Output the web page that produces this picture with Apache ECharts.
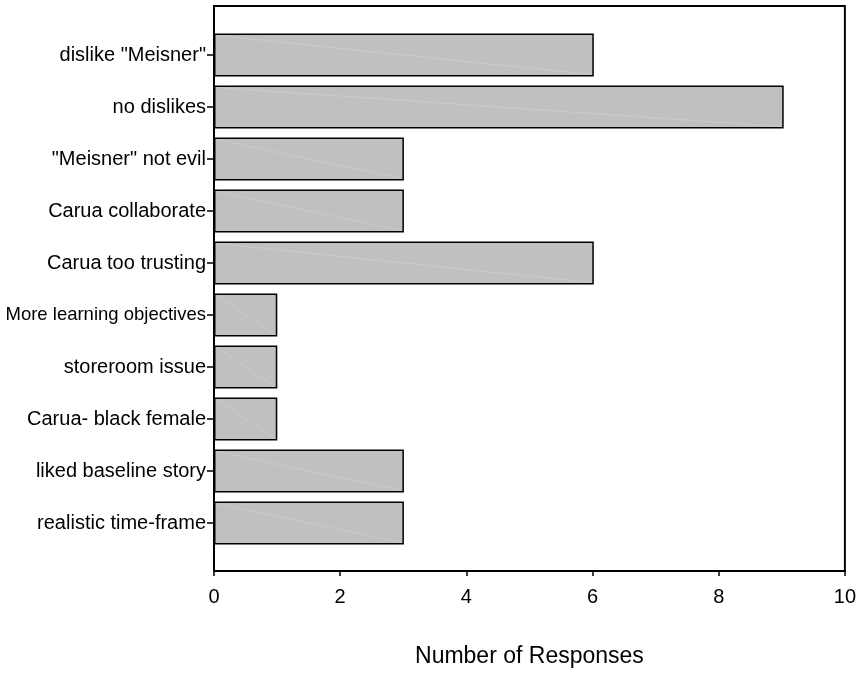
<!DOCTYPE html>
<html>
<head>
<meta charset="utf-8">
<script src="https://cdn.jsdelivr.net/npm/echarts@6/dist/echarts.min.js"></script>
<style>
html,body{margin:0;padding:0;background:#fff;}
#chart{width:859px;height:673px;}
</style>
</head>
<body>
<div id="chart"></div>
<script>
const categories = [
  'dislike "Meisner"',
  'no dislikes',
  '"Meisner" not evil',
  'Carua collaborate',
  'Carua too trusting',
  'More learning objectives',
  'storeroom issue',
  'Carua- black female',
  'liked baseline story',
  'realistic time-frame'
];
const responses = [6, 9, 3, 3, 6, 1, 1, 1, 3, 3];
const xTicks = [0, 2, 4, 6, 8, 10];
const xTitle = 'Number of Responses';

const FONT = '"Liberation Sans", Arial, Helvetica, sans-serif';
const BAR_H = 43;
const chart = echarts.init(document.getElementById('chart'), null, {renderer: 'canvas'});

chart.setOption({
  animation: false,
  backgroundColor: '#ffffff',
  grid: [
    {left: 214, right: 12, top: 6, bottom: 101, show: true, borderColor: '#000', borderWidth: 2, backgroundColor: 'transparent', z: 5},
    {left: 214, right: 12, top: 29, bottom: 124}
  ],
  xAxis: [
    {
      gridIndex: 0, type: 'value', min: xTicks[0], max: xTicks[xTicks.length - 1], interval: 2,
      axisLine: {show: true, lineStyle: {color: '#000', width: 2}},
      axisTick: {show: true, length: 5, lineStyle: {color: '#000', width: 1.5}},
      axisLabel: {fontSize: 20, color: '#000', fontFamily: FONT, margin: 16},
      splitLine: {show: false},
      name: xTitle, nameLocation: 'middle', nameGap: 74,
      nameTextStyle: {fontSize: 23, color: '#000', fontFamily: FONT}
    },
    {gridIndex: 1, type: 'value', min: 0, max: 10, show: false}
  ],
  yAxis: [
    {gridIndex: 0, type: 'value', min: 0, max: 1, show: false},
    {
      gridIndex: 1, type: 'category', data: categories, inverse: true,
      axisLine: {show: false},
      axisTick: {show: true, alignWithLabel: true, length: 7, lineStyle: {color: '#000', width: 1.5}},
      axisLabel: {
        fontSize: 20, color: '#000', fontFamily: FONT, margin: 8,
        formatter: function (v) { return v === 'More learning objectives' ? '{s|' + v + '}' : v; },
        rich: {s: {fontSize: 18.5, color: '#000', fontFamily: FONT}}
      },
      splitLine: {show: false}
    }
  ],
  series: [{
    type: 'bar', xAxisIndex: 1, yAxisIndex: 1, data: responses, barWidth: BAR_H,
    itemStyle: {color: '#c0c0c0', borderColor: '#000', borderWidth: 1.5},
    z: 2
  }, {
    type: 'custom', xAxisIndex: 1, yAxisIndex: 1, z: 3, silent: true,
    data: responses.map(function (v, i) { return [v, i]; }),
    encode: {x: 0, y: 1},
    renderItem: function (params, api) {
      const p0 = api.coord([0, api.value(1)]);
      const p1 = api.coord([api.value(0), api.value(1)]);
      return {
        type: 'line',
        shape: {x1: p0[0] + 3, y1: p0[1] - BAR_H / 2 + 2, x2: p1[0] - 3, y2: p1[1] + BAR_H / 2 - 2},
        style: {stroke: '#cbcbcb', lineWidth: 1}
      };
    }
  }]
});
</script>
</body>
</html>
